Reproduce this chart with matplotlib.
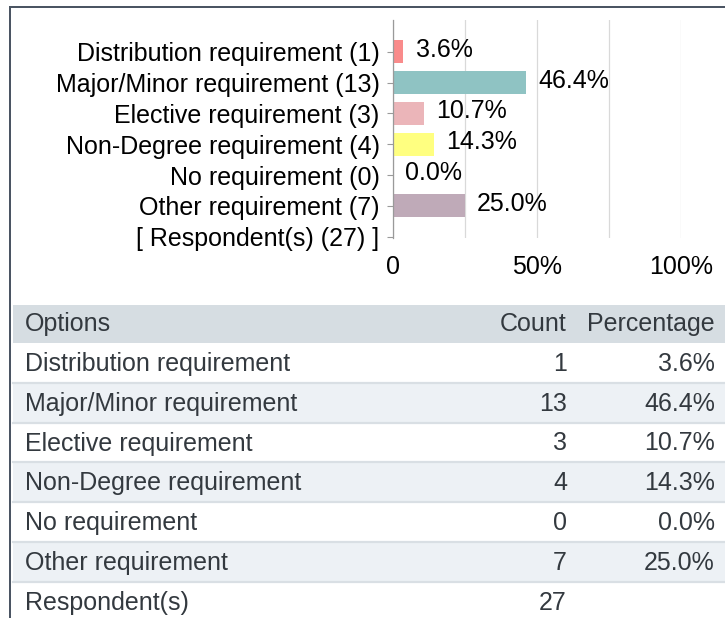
import matplotlib
matplotlib.use("Agg")
import matplotlib.pyplot as plt
import matplotlib.transforms as mtransforms
from matplotlib.patches import Rectangle
from matplotlib.lines import Line2D

plt.rcParams['font.family'] = ['Liberation Sans', 'DejaVu Sans']

# ---- data ----
options = ["Distribution requirement", "Major/Minor requirement", "Elective requirement",
           "Non-Degree requirement", "No requirement", "Other requirement"]
counts = [1, 13, 3, 4, 0, 7]
percentages = [3.6, 46.4, 10.7, 14.3, 0.0, 25.0]
respondents = 27
bar_colors = ["#f98b8b", "#8fc3c3", "#ebb5b9", "#ffff80", "#ffffff", "#bfaab8"]
x_ticks = [0, 50, 100]
x_tick_labels = ["0", "50%", "100%"]
grid_ticks = [0, 25, 50, 75, 100]
table_header = ["Options", "Count", "Percentage"]

W, H = 725, 618
fig = plt.figure(figsize=(W / 100, H / 100), dpi=100)

def frac(x0, y0, x1, y1):
    return [x0 / W, 1 - y1 / H, (x1 - x0) / W, (y1 - y0) / H]

# background / table layer in pixel coordinates
bg = fig.add_axes([0, 0, 1, 1])
bg.set_xlim(0, W)
bg.set_ylim(H, 0)
bg.axis("off")

# border
border_c = "#4b5563"
bg.add_patch(Rectangle((9, 6), 2.2, H - 6, color=border_c, lw=0))
bg.add_patch(Rectangle((9, 6), W - 9, 2.2, color=border_c, lw=0))

# table
tx0 = 12.7
text_c = "#33393f"
fs_tab = 18
header_top, header_bot = 305, 343
bg.add_patch(Rectangle((tx0, header_top), W - tx0, header_bot - header_top,
                       color="#d6dde2", lw=0))
row_h = 39.8
rows = [(o, str(c), f"{p:.1f}%") for o, c, p in zip(options, counts, percentages)]
rows.append(("Respondent(s)", str(respondents), ""))
col_x = [25, 567, 715]
hy = (header_top + header_bot) / 2
bg.text(col_x[0], hy, table_header[0], ha="left", va="center", fontsize=fs_tab, color=text_c)
bg.text(col_x[1], hy, table_header[1], ha="right", va="center", fontsize=fs_tab, color=text_c)
bg.text(col_x[2], hy, table_header[2], ha="right", va="center", fontsize=fs_tab, color=text_c)
for i, (a, b, c) in enumerate(rows):
    top = header_bot + i * row_h
    if i % 2 == 1:
        bg.add_patch(Rectangle((tx0, top), W - tx0, row_h, color="#edf1f5", lw=0))
    if i > 0:
        bg.add_line(Line2D([tx0, W], [top, top], color="#d9dfe4", lw=1.6))
    cy = top + row_h / 2 + 1
    bg.text(col_x[0], cy, a, ha="left", va="center", fontsize=fs_tab, color=text_c)
    bg.text(col_x[1], cy, b, ha="right", va="center", fontsize=fs_tab, color=text_c)
    bg.text(col_x[2], cy, c, ha="right", va="center", fontsize=fs_tab, color=text_c)

# chart
fs_chart = 18
ax = fig.add_axes(frac(392.7, 20, 680.7, 238))
ypos = list(range(len(options)))
ax.barh(ypos, percentages, height=0.75, color=bar_colors, zorder=3)
ax.set_xlim(0, 100)
ax.set_ylim(6.04, -1.03)
ylabels = [f"{o} ({c})" for o, c in zip(options, counts)] + [f"[ Respondent(s) ({respondents}) ]"]
ax.set_yticks(list(range(len(ylabels))))
ax.set_yticklabels(ylabels, fontsize=fs_chart, color="black")
shift = mtransforms.ScaledTranslation(0, 2.5 / 100, fig.dpi_scale_trans)
for lab in ax.get_yticklabels():
    lab.set_transform(lab.get_transform() + shift)
ax.set_xticks(x_ticks)
ax.set_xticklabels(x_tick_labels, fontsize=fs_chart, color="black")
ax.set_xticks(grid_ticks, minor=True)
ax.tick_params(axis="x", which="both", length=0, pad=12)
ax.tick_params(axis="y", length=4.5, width=0.8, color="#9a9a9a", pad=5)
ax.grid(axis="x", which="both", color="#d9d9d9", lw=0.9, zorder=0)
for s in ["top", "right", "bottom"]:
    ax.spines[s].set_visible(False)
ax.spines["left"].set_color("#9a9a9a")
ax.spines["left"].set_linewidth(0.9)
ax.spines["left"].set_zorder(4)
ax.set_facecolor("none")
for y, p in zip(ypos, percentages):
    ax.annotate(f"{p:.1f}%", xy=(p, y), xytext=(9, 1.5), textcoords="offset points",
                ha="left", va="center", fontsize=fs_chart, color="black")

fig.savefig("out.png", dpi=100)
